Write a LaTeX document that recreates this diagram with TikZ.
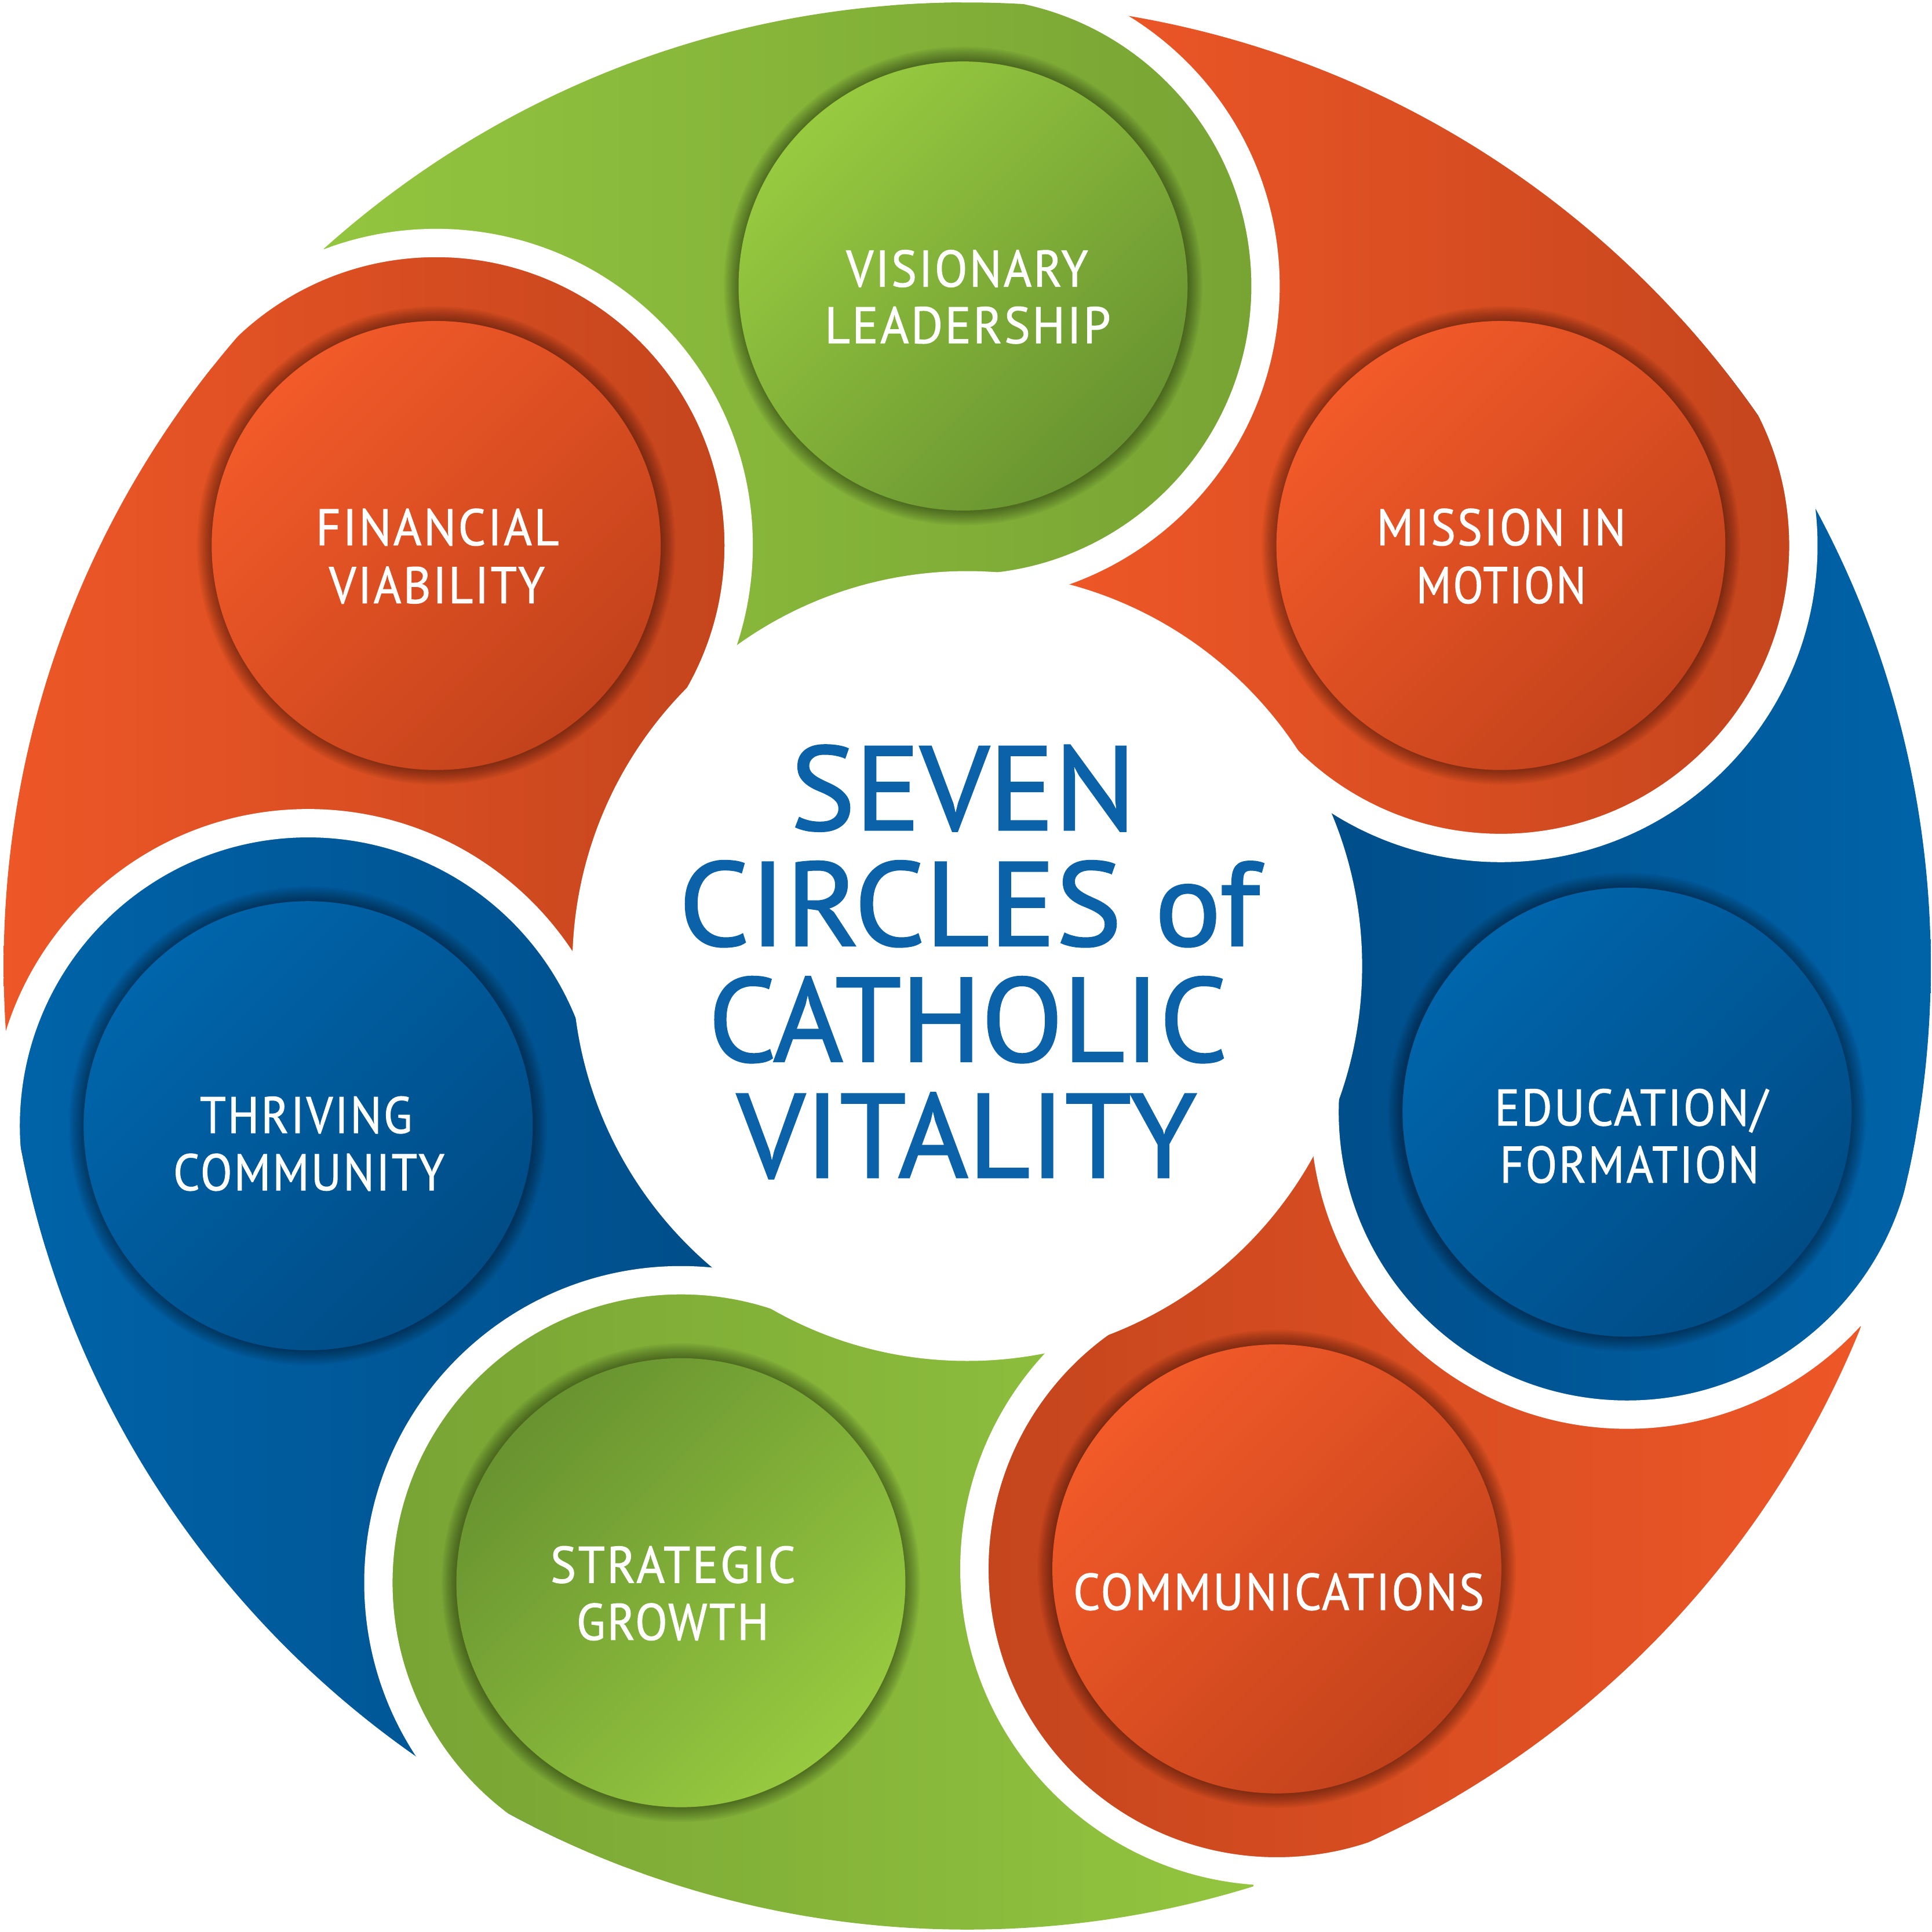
\documentclass[tikz,border=0pt]{standalone}
\usepackage{fontspec}
\newfontfamily\lblfont{PT Sans}[LetterSpace=4,FakeBold=1.2]
\newfontfamily\ttlfont{PT Sans}[FakeBold=1.5]
\definecolor{orL}{HTML}{EE5727}
\definecolor{orD}{HTML}{C5451D}
\definecolor{grL}{HTML}{93C53F}
\definecolor{grD}{HTML}{78A434}
\definecolor{blL}{HTML}{0063A8}
\definecolor{blD}{HTML}{004E8A}
\definecolor{orIL}{HTML}{F25A29}
\definecolor{orID}{HTML}{C3421B}
\definecolor{grIL}{HTML}{98CA40}
\definecolor{grID}{HTML}{689330}
\definecolor{blIL}{HTML}{0065AB}
\definecolor{blID}{HTML}{004C86}
\definecolor{ttlblue}{HTML}{0B62A8}
\newcommand\gradrect[4]{\shade[left color=#3,right color=#4] (#1,-800) rectangle (#2,800);}
\newcommand\tailfill[6]{\begin{scope}\clip (0,0) -- (#1:790) arc[start angle=#1,end angle=#2,radius=790] -- cycle;\gradrect{#3}{#4}{#5}{#6}\end{scope}}
\newcommand\diskfill[5]{\begin{scope}\clip (#1) circle[radius=235];\gradrect{#2}{#3}{#4}{#5}\end{scope}}
\newcommand\gapfill[3]{\begin{scope}\clip (0,0) -- (#1:900) arc[start angle=#1,end angle=#2,radius=900] -- cycle;\fill[white,even odd rule] (#3) circle[radius=257] (#3) circle[radius=234];\end{scope}}
\newcommand\softshadow[1]{\foreach \k in {1,...,12}{\fill[black,opacity=0.035] (#1) circle[radius=182.2+\k];}}
\newcommand\fitw[2]{\resizebox{#1mm}{\height}{#2}}
\tikzset{
  innerdisk/.style={circle,minimum size=36.44mm,inner sep=0pt,draw=none},
  lbl/.style={text=white,font=\lblfont\fontsize{11.87}{13}\selectfont,inner sep=0pt,anchor=base},
  ttl/.style={text=ttlblue,font=\ttlfont\fontsize{27.5}{27}\selectfont,inner sep=0pt,anchor=base}
}
\begin{document}
\begin{tikzpicture}[x=0.1mm,y=-0.1mm]
\useasboundingbox (0,0) rectangle (1568,1568);
\fill[white] (0,0) rectangle (1568,1568);
\begin{scope}[shift={(785,784)}]
\coordinate (cV) at (-3.4,-551.9);
\coordinate (cM) at (433.1,-341.3);
\coordinate (cE) at (535.5,118.6);
\coordinate (cC) at (251.3,489.3);
\coordinate (cS) at (-232.4,500.5);
\coordinate (cT) at (-534.9,129.6);
\coordinate (cF) at (-431.0,-341.3);
\begin{scope}
\clip (0,0) circle[radius=782];
% tails
\tailfill{-141.62}{-90.35}{-522}{232}{grL}{grD}
\tailfill{-90.35}{-38.24}{81}{668}{orL}{orD}
\tailfill{-38.24}{12.49}{293}{782}{blD}{blL}
\tailfill{12.49}{62.81}{16}{725}{orD}{orL}
\tailfill{62.81}{114.91}{-468}{232}{grD}{grL}
\tailfill{114.91}{166.38}{-770}{-207}{blL}{blD}
\tailfill{166.38}{218.38}{-782}{-196}{orL}{orD}
% rings (reverse order so each ring lies over the next one)
\diskfill{cF}{-782}{-196}{orL}{orD}
\diskfill{cT}{-770}{-207}{blL}{blD}
\diskfill{cS}{-468}{232}{grD}{grL}
\diskfill{cC}{16}{725}{orD}{orL}
\diskfill{cE}{293}{782}{blD}{blL}
\diskfill{cM}{81}{668}{orL}{orD}
\diskfill{cV}{-522}{232}{grL}{grD}
\end{scope}
% white gaps
\gapfill{-90.35}{-38.24}{cV}
\gapfill{-38.24}{12.49}{cM}
\gapfill{12.49}{62.81}{cE}
\gapfill{62.81}{114.91}{cC}
\gapfill{114.91}{166.38}{cS}
\gapfill{166.38}{218.38}{cT}
\gapfill{218.38}{269.65}{cF}
% centre
\fill[white] (0,0) circle[radius=320.5];
% inner circles
\softshadow{cV}\softshadow{cM}\softshadow{cE}\softshadow{cC}\softshadow{cS}\softshadow{cT}\softshadow{cF}
\node[innerdisk,top color=grIL,bottom color=grID,shading angle=45] (nV) at (cV) {};
\node[innerdisk,top color=orIL,bottom color=orID,shading angle=45] (nM) at (cM) {};
\node[innerdisk,top color=blIL,bottom color=blID,shading angle=45] (nE) at (cE) {};
\node[innerdisk,top color=orIL,bottom color=orID,shading angle=45] (nC) at (cC) {};
\node[innerdisk,top color=grID,bottom color=grIL,shading angle=45] (nS) at (cS) {};
\node[innerdisk,top color=blIL,bottom color=blID,shading angle=45] (nT) at (cT) {};
\node[innerdisk,top color=orIL,bottom color=orID,shading angle=45] (nF) at (cF) {};
\end{scope}
% labels
\node[lbl] (tV1) at (784.9,232.6) {\fitw{19.62}{VISIONARY}};
\node[lbl] (tV2) at (785.4,278.5) {\fitw{23.20}{LEADERSHIP}};
\node[lbl] (tM1) at (1218.4,442.5) {\fitw{20.22}{MISSION IN}};
\node[lbl] (tM2) at (1218.3,489.5) {\fitw{13.77}{MOTION}};
\node[lbl] (tE1) at (1323.7,913.4) {\fitw{22.14}{EDUCATION/}};
\node[lbl] (tE2) at (1322.5,959.8) {\fitw{21.03}{FORMATION}};
\node[lbl] (tC1) at (1037.8,1306.5) {\fitw{33.34}{COMMUNICATIONS}};
\node[lbl] (tS1) at (546.2,1284.5) {\fitw{19.90}{STRATEGIC}};
\node[lbl] (tS2) at (546.0,1330.9) {\fitw{15.61}{GROWTH}};
\node[lbl] (tT1) at (248.4,919.5) {\fitw{17.23}{THRIVING}};
\node[lbl] (tT2) at (250.7,966.0) {\fitw{22.01}{COMMUNITY}};
\node[lbl] (tF1) at (355.0,442.5) {\fitw{19.74}{FINANCIAL}};
\node[lbl] (tF2) at (354.6,489.5) {\fitw{17.50}{VIABILITY}};
% title
\node[ttl] (h1) at (781.8,673.5) {\fitw{28.03}{SEVEN}};
\node[ttl] (h2) at (786.5,767.4) {\fitw{47.12}{CIRCLES of}};
\node[ttl] (h3) at (785.6,861.4) {\fitw{42.13}{CATHOLIC}};
\node[ttl] (h4) at (784.6,955.6) {\fitw{37.29}{VITALITY}};
\end{tikzpicture}
\end{document}
